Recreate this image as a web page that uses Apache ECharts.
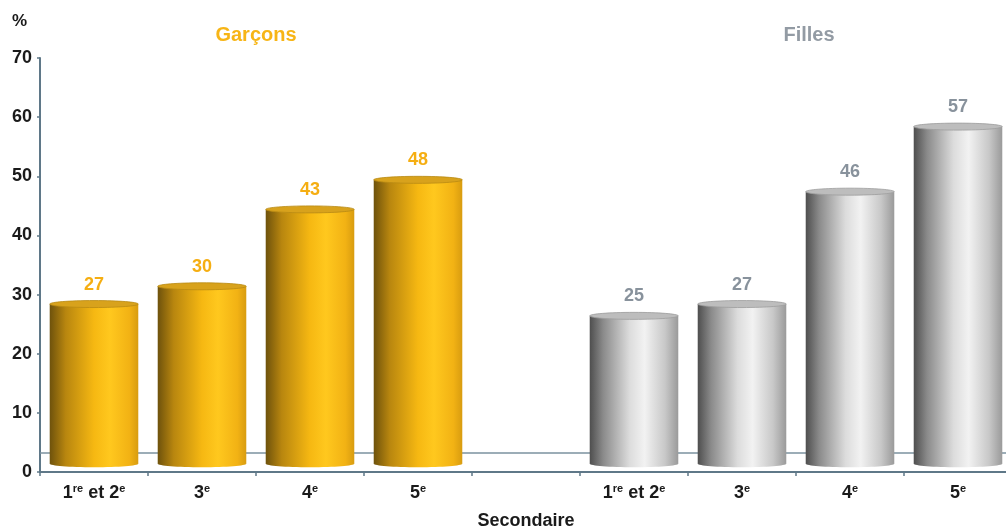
<!DOCTYPE html>
<html>
<head>
<meta charset="utf-8">
<script src="https://cdn.jsdelivr.net/npm/echarts@6/dist/echarts.min.js"></script>
<style>html,body{margin:0;padding:0;background:#fff}#c{width:1006px;height:529px}</style>
</head>
<body>
<div id="c"></div>
<script>
const categories = ['1re et 2e', '3e', '4e', '5e', '', '1re et 2e', '3e', '4e', '5e'];
const garconsIdx = [0, 1, 2, 3];
const garconsValues = [27, 30, 43, 48];
const fillesIdx = [5, 6, 7, 8];
const fillesValues = [25, 27, 46, 57];
const yMin = 0, yMax = 70, yStep = 10;

const FONT = '"Liberation Sans", Arial, sans-serif';
const BASE = 1.4;   // 3D floor offset (value units)
const FLOOR = 3.3;  // back edge of floor line

const gold = {
  body: [[0, '#6e520c'], [0.18, '#b8860f'], [0.5, '#f6b812'], [0.68, '#ffc81e'], [0.9, '#f2b214'], [1, '#d89c10']],
  top: '#d8a21c', topEdge: '#b98a14', label: '#f5ae12'
};
const grey = {
  body: [[0, '#4e4e4e'], [0.15, '#8a8a8a'], [0.45, '#dcdcdc'], [0.62, '#f2f2f2'], [0.85, '#c8c8c8'], [1, '#9a9a9a']],
  top: '#bdbdbd', topEdge: '#9d9d9d', label: '#88929c'
};

function makeRender(pal) {
  return function (params, api) {
    const i = api.value(0), v = api.value(1);
    const top = api.coord([i, v + BASE]);
    const bot = api.coord([i, BASE]);
    const w = api.size([1, 0])[0] * 0.82;
    const rx = w / 2, ry = 3.5;
    const grad = { type: 'linear', x: 0, y: 0, x2: 1, y2: 0, colorStops: pal.body.map(s => ({ offset: s[0], color: s[1] })) };
    return {
      type: 'group',
      children: [
        { type: 'ellipse', shape: { cx: top[0], cy: bot[1], rx: rx, ry: ry }, style: { fill: grad } },
        { type: 'rect', shape: { x: top[0] - rx, y: top[1], width: w, height: bot[1] - top[1] }, style: { fill: grad } },
        { type: 'ellipse', shape: { cx: top[0], cy: top[1], rx: rx, ry: ry }, style: { fill: pal.top, stroke: pal.topEdge, lineWidth: 0.8 } },
        { type: 'text', style: { text: String(v), x: top[0], y: top[1] - ry - 7, align: 'center', verticalAlign: 'bottom', fill: pal.label, font: 'bold 18px ' + FONT } }
      ]
    };
  };
}

const chart = echarts.init(document.getElementById('c'));
chart.setOption({
  animation: false,
  backgroundColor: '#ffffff',
  grid: { left: 40, right: -6, top: 58, bottom: 57, outerBoundsMode: 'none', containLabel: false },
  xAxis: {
    type: 'category',
    data: categories,
    name: 'Secondaire',
    nameLocation: 'middle',
    nameGap: 40,
    nameTextStyle: { fontFamily: FONT, fontWeight: 'bold', fontSize: 18, color: '#1a1a1a' },
    axisLine: { lineStyle: { color: '#5f7888', width: 2 } },
    axisTick: { show: true, length: 4, lineStyle: { color: '#5f7888', width: 1.5 } },
    axisLabel: {
      interval: 0, margin: 11,
      fontFamily: FONT, fontWeight: 'bold', fontSize: 18, color: '#1a1a1a',
      formatter: v => v.replace(/(\d)(re|e)\b/g, '$1{s|$2}'),
      rich: { s: { fontFamily: FONT, fontWeight: 'bold', fontSize: 11, color: '#1a1a1a', padding: [0, 0, 9, 0] } }
    },
    splitLine: { show: false }
  },
  yAxis: {
    type: 'value', min: yMin, max: yMax, interval: yStep,
    axisLine: { show: true, lineStyle: { color: '#5f7888', width: 2 } },
    axisTick: { show: true, length: 3, lineStyle: { color: '#5f7888', width: 1.5 } },
    axisLabel: { margin: 8, fontFamily: FONT, fontWeight: 'bold', fontSize: 18, color: '#1a1a1a' },
    splitLine: { show: false }
  },
  graphic: [
    { type: 'text', left: 12, top: 13, style: { text: '%', font: 'bold 17px ' + FONT, fill: '#1a1a1a' } },
    { type: 'text', x: 256, y: 35, style: { text: 'Garçons', align: 'center', verticalAlign: 'middle', font: 'bold 20px ' + FONT, fill: '#f7b516' } },
    { type: 'text', x: 809, y: 35, style: { text: 'Filles', align: 'center', verticalAlign: 'middle', font: 'bold 20px ' + FONT, fill: '#939ba4' } }
  ],
  series: [
    {
      name: 'floor', type: 'line', data: [], silent: true, z: 1,
      markLine: {
        silent: true, symbol: 'none', label: { show: false }, z: 1,
        lineStyle: { color: '#7b929f', width: 1.5, type: 'solid' },
        data: [{ yAxis: FLOOR }]
      }
    },
    {
      name: 'Garçons', type: 'custom', renderItem: makeRender(gold),
      data: garconsIdx.map((x, k) => [x, garconsValues[k]]),
      z: 3
    },
    {
      name: 'Filles', type: 'custom', renderItem: makeRender(grey),
      data: fillesIdx.map((x, k) => [x, fillesValues[k]]),
      z: 3
    }
  ]
});
</script>
</body>
</html>
